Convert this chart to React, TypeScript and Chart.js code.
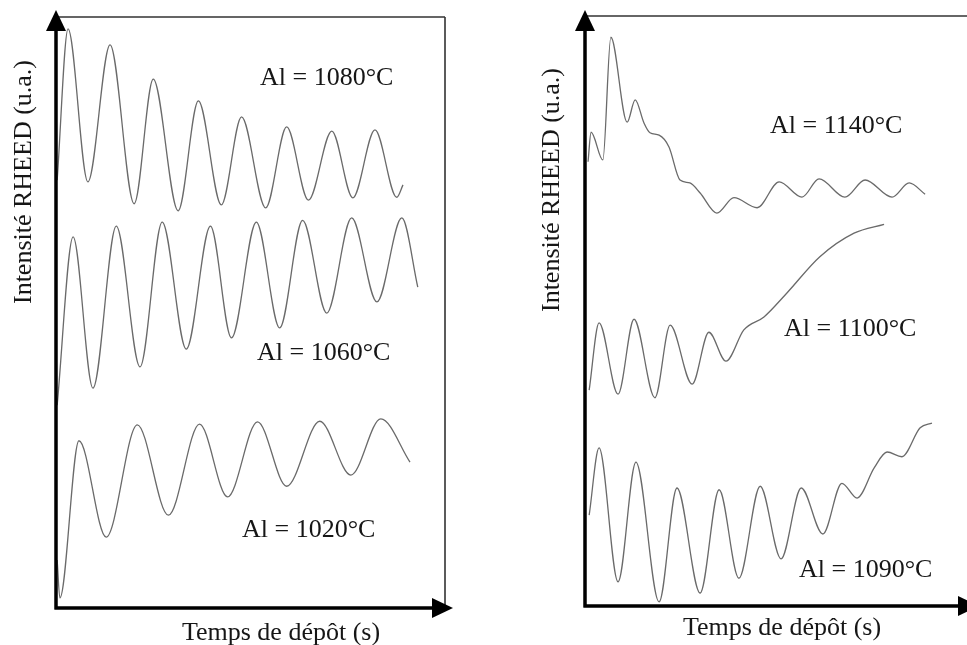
import React, { useEffect, useRef } from "react";
import { Chart, registerables } from "chart.js";

Chart.register(...registerables);

// ---- Left panel data (time in arbitrary units 0..100, intensity 0..100 u.a.) ----
const t1080 = [0.3, 3.1, 8.2, 13.9, 20.1, 25.0, 31.4, 36.6, 42.5, 47.7, 53.9, 59.3, 64.9, 70.9, 76.3, 82.0, 87.6, 89.2];
const i1080 = [72.4, 98.0, 72.1, 95.3, 68.4, 89.5, 67.2, 85.8, 68.2, 83.1, 67.7, 81.4, 69.0, 80.7, 69.4, 80.9, 69.5, 71.6];

const t1060 = [0.3, 4.4, 9.5, 15.5, 21.6, 27.3, 33.5, 39.7, 45.1, 51.5, 57.5, 63.4, 69.6, 76.0, 82.5, 88.9, 93.0];
const i1060 = [34.3, 62.8, 37.2, 64.6, 40.8, 65.3, 43.8, 64.6, 45.7, 65.3, 47.4, 65.6, 49.9, 66.0, 51.8, 66.0, 54.3];

const t1020 = [0.3, 1.0, 5.9, 12.9, 20.9, 28.9, 36.9, 44.1, 51.8, 59.3, 67.8, 75.8, 83.5, 91.0];
const i1020 = [8.1, 1.7, 28.3, 12.0, 31.0, 15.7, 31.1, 18.8, 31.5, 20.6, 31.6, 22.5, 32.0, 24.7];

// ---- Right panel data ----
const t1140 = [0.8, 1.6, 4.7, 6.8, 11.1, 13.2, 15.5, 17.1, 19.5, 22.1, 25.0, 27.6, 30.3, 34.7, 39.2, 45.3, 51.1, 57.1, 61.6, 68.4, 73.7, 80.8, 85.3, 89.5];
const i1140 = [75.3, 80.3, 75.6, 96.4, 82.0, 85.8, 81.9, 80.2, 79.8, 77.8, 72.2, 71.7, 70.0, 66.6, 69.2, 67.5, 71.9, 69.3, 72.4, 69.3, 72.2, 69.3, 71.7, 69.8];

const t1100 = [1.1, 3.7, 8.7, 12.9, 18.4, 22.4, 28.2, 32.6, 37.1, 41.8, 47.1, 53.2, 61.8, 70.8, 78.7];
const i1100 = [36.6, 48.0, 35.9, 48.6, 35.3, 47.6, 37.6, 46.4, 41.5, 46.8, 49.0, 53.1, 59.2, 63.2, 64.7];

const t1090 = [1.1, 3.7, 8.7, 13.4, 19.5, 24.2, 30.3, 35.3, 40.5, 46.1, 51.6, 56.9, 62.6, 67.6, 71.6, 76.1, 79.5, 83.4, 88.2, 91.3];
const i1090 = [15.4, 26.8, 4.1, 24.4, 0.7, 20.0, 2.2, 19.7, 4.7, 20.3, 8.0, 20.0, 12.2, 20.8, 18.3, 23.4, 26.1, 25.3, 30.2, 31.0];

const leftLabels = ["Al = 1080°C", "Al = 1060°C", "Al = 1020°C"];
const rightLabels = ["Al = 1140°C", "Al = 1100°C", "Al = 1090°C"];
const yTitle = "Intensité RHEED (u.a.)";
const xTitle = "Temps de dépôt (s)";

const LINE = "#6a6a6a";
const FONT = '26px "Liberation Serif", "Times New Roman", serif';

const zip = (xs: number[], ys: number[]) => xs.map((x, i) => ({ x, y: ys[i] }));

const framePlugin = {
  id: "rheedFrame",
  afterDraw(chart: any, _args: any, opts: any) {
    const { ctx, chartArea: a } = chart;
    ctx.save();
    // thin box
    ctx.strokeStyle = "#333";
    ctx.lineWidth = 1.6;
    ctx.beginPath();
    ctx.moveTo(a.left, a.top);
    ctx.lineTo(opts.topEnd ?? a.right, a.top);
    if (opts.rightBorder) {
      ctx.moveTo(a.right, a.top);
      ctx.lineTo(a.right, a.bottom);
    }
    ctx.stroke();
    // thick axes
    ctx.strokeStyle = "#000";
    ctx.lineWidth = 3.5;
    ctx.beginPath();
    ctx.moveTo(a.left, a.bottom + 1.5);
    ctx.lineTo(a.left, opts.yTip + 18);
    ctx.moveTo(a.left - 1.5, a.bottom);
    ctx.lineTo(opts.xTip - 18, a.bottom);
    ctx.stroke();
    ctx.fillStyle = "#000";
    ctx.beginPath();
    ctx.moveTo(a.left, opts.yTip);
    ctx.lineTo(a.left - 10, opts.yTip + 21);
    ctx.lineTo(a.left + 10, opts.yTip + 21);
    ctx.closePath();
    ctx.fill();
    ctx.beginPath();
    ctx.moveTo(opts.xTip, a.bottom);
    ctx.lineTo(opts.xTip - 21, a.bottom - 10);
    ctx.lineTo(opts.xTip - 21, a.bottom + 10);
    ctx.closePath();
    ctx.fill();
    // texts
    ctx.fillStyle = "#161616";
    ctx.font = FONT;
    ctx.textBaseline = "alphabetic";
    ctx.textAlign = "left";
    for (const l of opts.labels) ctx.fillText(l.text, l.x, l.y);
    ctx.textAlign = "center";
    ctx.fillText(opts.xTitle.text, opts.xTitle.x, opts.xTitle.y);
    ctx.translate(opts.yTitle.x, opts.yTitle.y);
    ctx.rotate(-Math.PI / 2);
    ctx.textBaseline = "middle";
    ctx.fillText(opts.yTitle.text, 0, 0);
    ctx.restore();
  },
};

type PanelProps = {
  left: number;
  width: number;
  series: { x: number; y: number }[][];
  padding: { left: number; right: number; top: number; bottom: number };
  deco: any;
};

function Panel({ left, width, series, padding, deco }: PanelProps) {
  const ref = useRef<HTMLCanvasElement | null>(null);
  useEffect(() => {
    if (!ref.current) return;
    const chart = new Chart(ref.current, {
      type: "line",
      data: {
        datasets: series.map((d) => ({
          data: d,
          borderColor: LINE,
          borderWidth: 1.3,
          pointRadius: 0,
          fill: false,
          cubicInterpolationMode: "monotone" as const,
        })),
      },
      options: {
        responsive: false,
        animation: false,
        devicePixelRatio: 1,
        layout: { padding },
        scales: {
          x: { type: "linear", min: 0, max: 100, display: false },
          y: { type: "linear", min: 0, max: 100, display: false },
        },
        plugins: {
          legend: { display: false },
          tooltip: { enabled: false },
          rheedFrame: deco,
        } as any,
      },
      plugins: [framePlugin],
    });
    return () => chart.destroy();
  }, []);
  return (
    <canvas
      ref={ref}
      width={width}
      height={645}
      style={{ position: "absolute", left, top: 0, width, height: 645 }}
    />
  );
}

export default function App() {
  return (
    <div
      style={{
        position: "fixed",
        left: 0,
        top: 0,
        width: 967,
        height: 645,
        overflow: "hidden",
        background: "#fff",
      }}
    >
      <Panel
        left={0}
        width={480}
        series={[zip(t1080, i1080), zip(t1060, i1060), zip(t1020, i1020)]}
        padding={{ left: 56, right: 35, top: 17, bottom: 37 }}
        deco={{
          yTip: 10,
          xTip: 453,
          rightBorder: true,
          labels: [
            { text: leftLabels[0], x: 260, y: 85 },
            { text: leftLabels[1], x: 257, y: 360 },
            { text: leftLabels[2], x: 242, y: 537 },
          ],
          xTitle: { text: xTitle, x: 281, y: 640 },
          yTitle: { text: yTitle, x: 24, y: 182 },
        }}
      />
      <Panel
        left={480}
        width={510}
        series={[zip(t1140, i1140), zip(t1100, i1100), zip(t1090, i1090)]}
        padding={{ left: 105, right: 25, top: 16, bottom: 39 }}
        deco={{
          yTip: 10,
          xTip: 499,
          rightBorder: false,
          topEnd: 510,
          labels: [
            { text: rightLabels[0], x: 290, y: 133 },
            { text: rightLabels[1], x: 304, y: 336 },
            { text: rightLabels[2], x: 319, y: 577 },
          ],
          xTitle: { text: xTitle, x: 302, y: 635 },
          yTitle: { text: yTitle, x: 72, y: 190 },
        }}
      />
    </div>
  );
}
